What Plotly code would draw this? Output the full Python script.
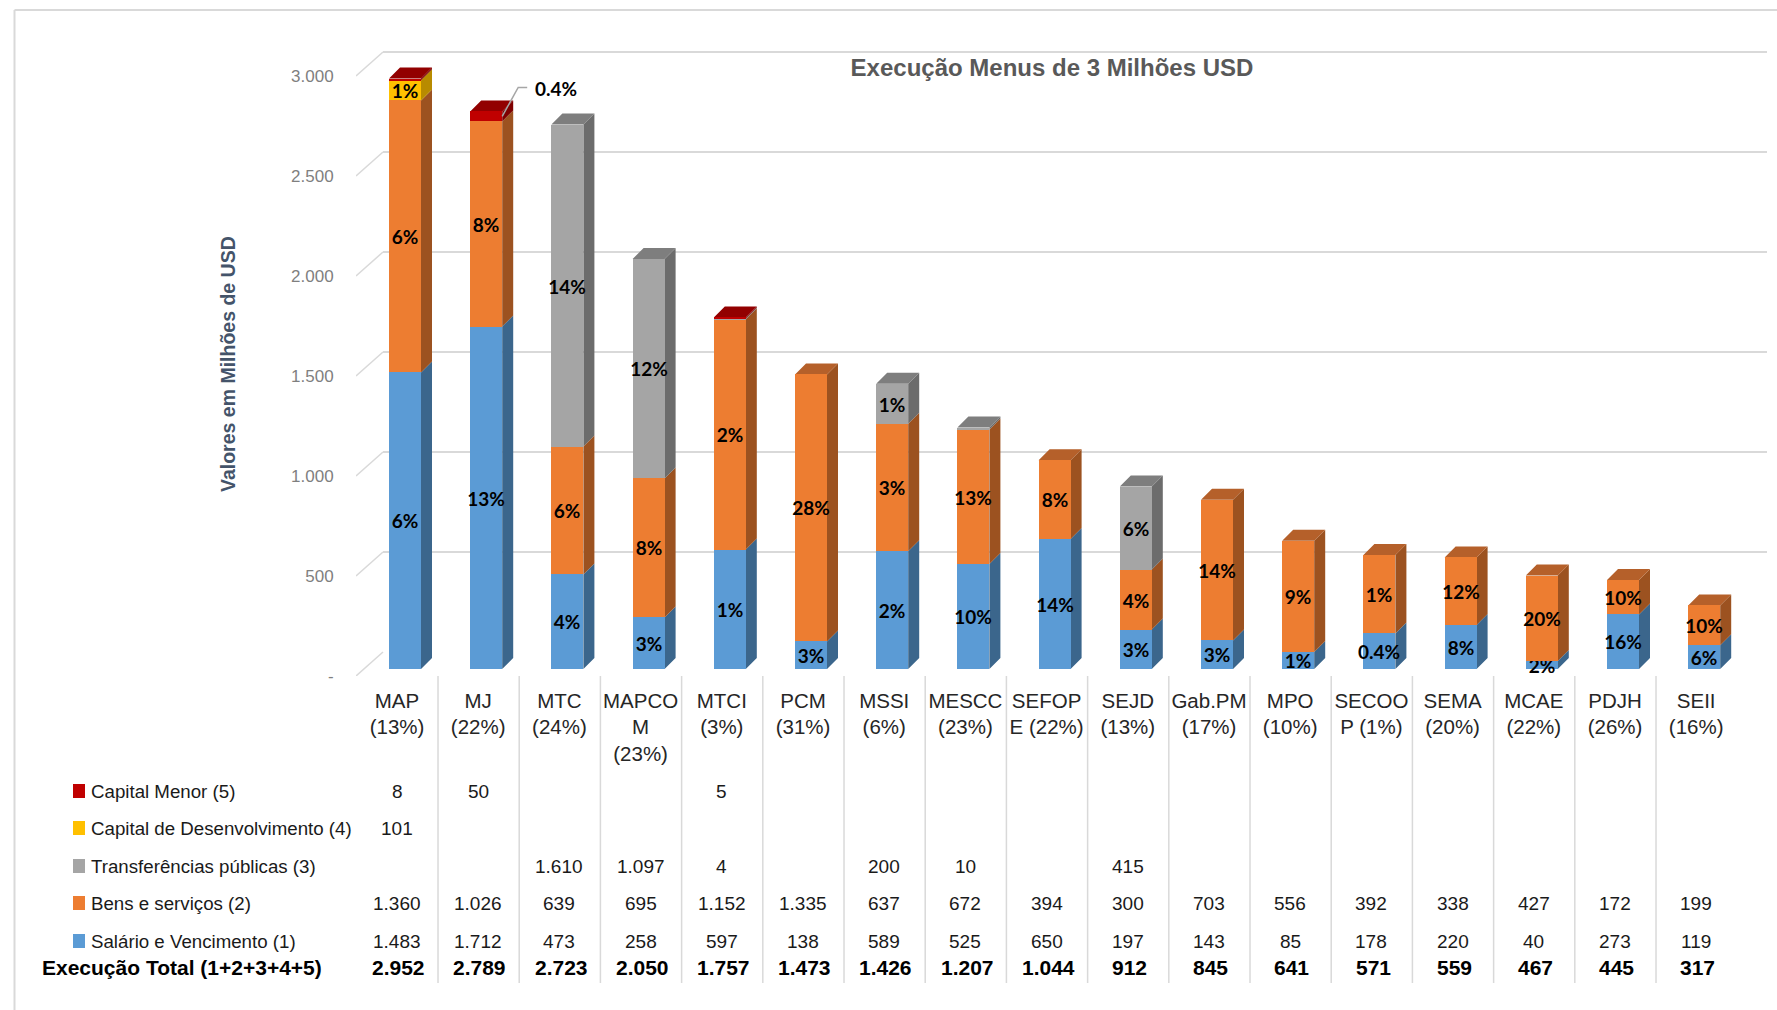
import plotly.graph_objects as go

# ---- data ----
categories = ["MAP (13%)", "MJ (22%)", "MTC (24%)", "MAPCOM (23%)", "MTCI (3%)", "PCM (31%)", "MSSI (6%)",
              "MESCC (23%)", "SEFOPE (22%)", "SEJD (13%)", "Gab.PM (17%)", "MPO (10%)", "SECOOP (1%)",
              "SEMA (20%)", "MCAE (22%)", "PDJH (26%)", "SEII (16%)"]
tick_labels = ["MAP<br>(13%)", "MJ<br>(22%)", "MTC<br>(24%)", "MAPCO<br>M<br>(23%)", "MTCI<br>(3%)", "PCM<br>(31%)",
               "MSSI<br>(6%)", "MESCC<br>(23%)", "SEFOP<br>E (22%)", "SEJD<br>(13%)", "Gab.PM<br>(17%)",
               "MPO<br>(10%)", "SECOO<br>P (1%)", "SEMA<br>(20%)", "MCAE<br>(22%)", "PDJH<br>(26%)", "SEII<br>(16%)"]
salario = [1483, 1712, 473, 258, 597, 138, 589, 525, 650, 197, 143, 85, 178, 220, 40, 273, 119]
bens = [1360, 1026, 639, 695, 1152, 1335, 637, 672, 394, 300, 703, 556, 392, 338, 427, 172, 199]
transf = [None, None, 1610, 1097, 4, None, 200, 10, None, 415, None, None, None, None, None, None, None]
cap_dev = [101] + [None] * 16
cap_menor = [8, 50, None, None, 5] + [None] * 12
totals = [2952, 2789, 2723, 2050, 1757, 1473, 1426, 1207, 1044, 912, 845, 641, 571, 559, 467, 445, 317]

pct_salario = ["6%", "13%", "4%", "3%", "1%", "3%", "2%", "10%", "14%", "3%", "3%", "1%", "0.4%", "8%", "2%", "16%", "6%"]
pct_bens = ["6%", "8%", "6%", "8%", "2%", "28%", "3%", "13%", "8%", "4%", "14%", "9%", "1%", "12%", "20%", "10%", "10%"]
pct_transf = ["", "", "14%", "12%", "", "", "1%", "", "", "6%", "", "", "", "", "", "", ""]
pct_dev = ["1%"] + [""] * 16
pct_menor = [""] * 17

y_ticks = [0, 500, 1000, 1500, 2000, 2500, 3000]
y_tick_text = ["-", "500", "1.000", "1.500", "2.000", "2.500", "3.000"]

series = [
    ("Salário e Vencimento (1)", salario, pct_salario, "#5B9BD5", "#3B668C", "#3B668C"),
    ("Bens e serviços (2)", bens, pct_bens, "#ED7D31", "#9C5220", "#B5602A"),
    ("Transferências públicas (3)", transf, pct_transf, "#A5A5A5", "#6C6C6C", "#7E7E7E"),
    ("Capital de Desenvolvimento (4)", cap_dev, pct_dev, "#FFC000", "#B88B00", "#C29200"),
    ("Capital Menor (5)", cap_menor, pct_menor, "#C00000", "#7E0000", "#920000"),
]

# ---- layout helpers (pixels of the 1777x1010 page) ----
W, H = 1777, 1010
SANS = "Liberation Sans"
LABEL = "Lato"
STEP = 81.2
X0 = 397.0


def fx(px):
    return px / W


def fy(px):
    return 1 - px / H


PX_PER_UNIT = 0.2
SPAN = 3200
xr2 = [(356 - X0) / STEP, (1767 - X0) / STEP]
BAR_OFF = (389 - X0) / STEP
BAR_W = 32 / STEP
DX = 11 / STEP
DY = 11 / PX_PER_UNIT

n = len(categories)
xs = list(range(n))


def fmt(v):
    return "" if v is None else f"{v:,}".replace(",", ".")


fig = go.Figure()

fig.add_trace(go.Scatter(x=[None], y=[None], xaxis="x", yaxis="y", showlegend=False, hoverinfo="skip"))

dx_wall = 27 / STEP
dy_wall = 24 / PX_PER_UNIT
dg_x, dg_y = [], []
for t in y_ticks:
    dg_x += [xr2[0], xr2[0] + dx_wall, None]
    dg_y += [t, t + dy_wall, None]
fig.add_trace(go.Scatter(x=dg_x, y=dg_y, mode="lines", line=dict(color="#D9D9D9", width=1.5),
                         xaxis="x2", yaxis="y2", showlegend=False, hoverinfo="skip"))

# side and top faces live on y3, under the front faces and their labels on y4
cum = [0] * n
top_polys = {}
for name, vals, pct, col, side, top in series:
    sx, sy = [], []
    for i, v in enumerate(vals):
        if not v:
            continue
        r = i + BAR_OFF + BAR_W
        y0, y1 = cum[i], cum[i] + v
        sx += [r, r, r + DX, r + DX, r, None]
        sy += [y0, y1, y1 + DY, y0 + DY, y0, None]
        cum[i] = y1
    fig.add_trace(go.Scatter(x=sx, y=sy, mode="lines", fill="toself", fillcolor=side, line=dict(width=0),
                             xaxis="x2", yaxis="y3", showlegend=False, hoverinfo="skip", cliponaxis=False))
for i in range(n):
    for name, vals, pct, col, side, top in reversed(series):
        if vals[i]:
            top_polys.setdefault(top, []).append(i)
            break
for top, idxs in top_polys.items():
    tx, ty = [], []
    for i in idxs:
        l = i + BAR_OFF
        r = l + BAR_W
        tx += [l, r, r + DX, l + DX, l, None]
        ty += [cum[i], cum[i], cum[i] + DY, cum[i] + DY, cum[i], None]
    fig.add_trace(go.Scatter(x=tx, y=ty, mode="lines", fill="toself", fillcolor=top, line=dict(width=0),
                             xaxis="x2", yaxis="y3", showlegend=False, hoverinfo="skip", cliponaxis=False))

for name, vals, pct, col, side, top in series:
    fig.add_trace(go.Bar(x=xs, y=[v if v is not None else 0 for v in vals], name=name, width=BAR_W, offset=BAR_OFF,
                         marker=dict(color=col, line=dict(width=0)), text=pct, textposition="inside",
                         insidetextanchor="middle", constraintext="none", textangle=0, cliponaxis=False,
                         textfont=dict(family=LABEL, size=19, color="black", weight=700),
                         xaxis="x2", yaxis="y4", showlegend=False, hovertemplate="%{x}: %{y}<extra>" + name + "</extra>"))

lead_i = 1
lead_r = lead_i + BAR_OFF + BAR_W
lead_y = cum[lead_i] - 25
fig.add_trace(go.Scatter(x=[lead_r, lead_r + 16 / STEP, lead_r + 25 / STEP], y=[lead_y, lead_y + 145, lead_y + 145],
                         mode="lines", line=dict(color="#A6A6A6", width=1.5), xaxis="x2", yaxis="y4",
                         showlegend=False, hoverinfo="skip", cliponaxis=False))

annotations = []


def add_text(text, x, px_y, xref="x2", size=19, color="#1a1a1a", weight=400, xanchor="center", family=SANS):
    annotations.append(dict(text=text, x=x, y=fy(px_y), xref=xref, yref="paper", showarrow=False,
                            xanchor=xanchor, yanchor="middle",
                            font=dict(family=family, size=size, color=color, weight=weight)))


add_text("0.4%", (556 - X0) / STEP, 89, size=19, color="black", weight=700, family=LABEL)

row_y = {"Capital Menor (5)": 791, "Capital de Desenvolvimento (4)": 828, "Transferências públicas (3)": 866,
         "Bens e serviços (2)": 903, "Salário e Vencimento (1)": 941}
shapes = []
for name, vals, pct, col, side, top in series:
    y = row_y[name]
    add_text(name, fx(89), y, xref="paper", xanchor="left", size=18.7)
    shapes.append(dict(type="rect", xref="paper", yref="paper", x0=fx(73), x1=fx(85), y0=fy(y - 7), y1=fy(y + 7),
                       fillcolor=col, line=dict(width=0)))
    for i, v in enumerate(vals):
        if v is not None:
            add_text(fmt(v), i, y)
add_text("Execução Total (1+2+3+4+5)", fx(40), 967, xref="paper", color="black", weight=700, xanchor="left", size=21)
for i, v in enumerate(totals):
    add_text(fmt(v), i + 0.02, 967, color="black", weight=700, size=21)

# rotated axis title
annotations.append(dict(text="Valores em Milhões de USD", x=fx(228), y=fy(364), xref="paper", yref="paper",
                        showarrow=False, textangle=-90, xanchor="center", yanchor="middle",
                        font=dict(family=SANS, size=19.5, color="#44546A", weight=700)))

for i in range(n - 1):
    shapes.append(dict(type="line", xref="x2", yref="paper", x0=i + 0.505, x1=i + 0.505, y0=fy(676), y1=fy(983),
                       line=dict(color="#D9D9D9", width=1.5)))
shapes.append(dict(type="line", xref="paper", yref="paper", x0=fx(14.5), x1=fx(14.5), y0=0, y1=fy(10),
                   line=dict(color="#D9D9D9", width=2)))
shapes.append(dict(type="line", xref="paper", yref="paper", x0=fx(14.5), x1=1, y0=fy(10), y1=fy(10),
                   line=dict(color="#D9D9D9", width=2)))

fig.update_layout(
    width=W, height=H, margin=dict(l=0, r=0, t=0, b=0), paper_bgcolor="white", plot_bgcolor="rgba(0,0,0,0)",
    barmode="stack", bargap=0, showlegend=False, annotations=annotations, shapes=shapes,
    title=dict(text="Execução Menus de 3 Milhões USD", x=fx(1052), xanchor="center", y=fy(68), yanchor="middle",
               font=dict(family=SANS, size=24, color="#595959", weight=700)),
    xaxis=dict(domain=[fx(383), fx(1767)], range=[0, 1], visible=False, anchor="y", automargin=False),
    yaxis=dict(domain=[fy(652), fy(12)], range=[0, SPAN], anchor="x", tickvals=y_ticks, showticklabels=False,
               showgrid=True, gridcolor="#D9D9D9", gridwidth=1.5, zeroline=False, showline=False, ticks="",
               automargin=False),
    xaxis2=dict(domain=[fx(356), fx(1767)], range=xr2, anchor="y2", tickmode="array", tickvals=xs, ticktext=tick_labels,
                tickfont=dict(family=SANS, size=20.5, color="#262626"), showgrid=False, zeroline=False, showline=False,
                ticks="outside", ticklen=6, tickcolor="rgba(0,0,0,0)", automargin=False),
    yaxis2=dict(domain=[fy(676), fy(36)], range=[0, SPAN], anchor="x2", tickmode="array", tickvals=y_ticks,
                ticktext=y_tick_text, tickfont=dict(family=SANS, size=17, color="#7F7F7F"),
                showgrid=False, zeroline=False, showline=False, ticks="outside", ticklen=18,
                tickcolor="rgba(0,0,0,0)", automargin=False),
    yaxis3=dict(domain=[fy(669), fy(29)], range=[0, SPAN], anchor="x2", visible=False, automargin=False),
    yaxis4=dict(domain=[fy(669), fy(29)], range=[0, SPAN], anchor="x2", visible=False, automargin=False),
)

fig.write_html("out.html", post_script="document.body.style.margin='0';",
               config=dict(displayModeBar=False))
